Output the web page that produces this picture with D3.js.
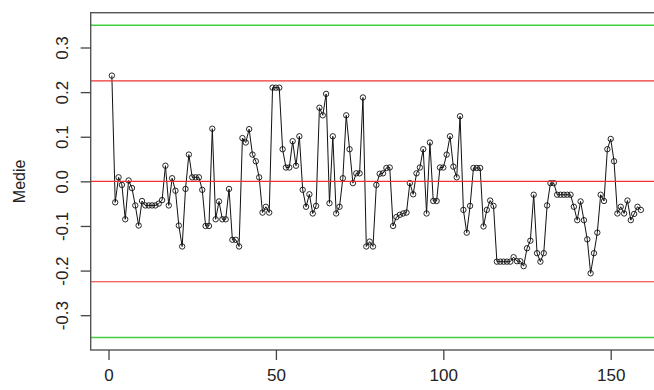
<!DOCTYPE html>
<html>
<head>
<meta charset="utf-8">
<script src="https://cdn.jsdelivr.net/npm/d3@7"></script>
<style>
  html, body { margin: 0; padding: 0; background: #fff; }
  svg { display: block; }
  text { font-family: "Liberation Sans", Arial, sans-serif; }
</style>
</head>
<body>
<svg id="chart" width="654" height="390"></svg>
<script>
// Running means, one per sample
const medie = [
  0.237, -0.047, 0.009, -0.008, -0.085, 0.002, -0.015, -0.054, -0.099, -0.044,
  -0.054, -0.054, -0.054, -0.054, -0.050, -0.042, 0.035, -0.054, 0.007, -0.021,
  -0.099, -0.146, -0.017, 0.060, 0.009, 0.009, 0.009, -0.019, -0.100, -0.100,
  0.118, -0.085, -0.045, -0.085, -0.085, -0.017, -0.131, -0.131, -0.146, 0.097,
  0.087, 0.117, 0.060, 0.045, 0.009, -0.070, -0.057, -0.070, 0.210, 0.210,
  0.210, 0.072, 0.031, 0.031, 0.090, 0.035, 0.101, -0.019, -0.057, -0.029,
  -0.072, -0.055, 0.165, 0.148, 0.196, -0.049, 0.101, -0.072, -0.057, 0.007,
  0.148, 0.072, -0.004, 0.018, 0.018, 0.188, -0.146, -0.135, -0.146, -0.008,
  0.017, 0.018, 0.030, 0.031, -0.100, -0.080, -0.075, -0.072, -0.070, -0.004,
  -0.029, 0.018, 0.031, 0.072, -0.072, 0.087, -0.044, -0.044, 0.031, 0.031,
  0.060, 0.101, 0.033, 0.009, 0.146, -0.064, -0.115, -0.055, 0.030, 0.030,
  0.030, -0.101, -0.064, -0.043, -0.055, -0.180, -0.180, -0.180, -0.180, -0.180,
  -0.170, -0.179, -0.179, -0.190, -0.150, -0.133, -0.030, -0.161, -0.180, -0.161,
  -0.054, -0.004, -0.004, -0.030, -0.030, -0.030, -0.030, -0.030, -0.057, -0.087,
  -0.045, -0.087, -0.130, -0.206, -0.161, -0.115, -0.030, -0.044, 0.072, 0.095,
  0.045, -0.072, -0.057, -0.072, -0.043, -0.087, -0.073, -0.057, -0.064
];

// Reference lines: centre, inner limits, outer limits
const centerLine = [0];
const innerLimits = [-0.225, 0.225];
const outerLimits = [-0.35, 0.35];

const xTicks = [0, 50, 100, 150];
const yTicks = [-0.3, -0.2, -0.1, 0.0, 0.1, 0.2, 0.3];
const yTickLabels = ["-0.3", "-0.2", "-0.1", "0.0", "0.1", "0.2", "0.3"];
const yLabel = "Medie";

const svg = d3.select("#chart");
const box = { left: 90.7, top: 12.7, right: 662, bottom: 350 };

// Base-graphics style 4% padding around the data range
const n = medie.length;
const padX = (n - 1) * 0.04;
const yLim = 0.35, padY = 2 * yLim * 0.04;

const x = d3.scaleLinear().domain([1 - padX, n + padX]).range([box.left, box.right]);
const y = d3.scaleLinear().domain([-yLim - padY, yLim + padY]).range([box.bottom, box.top]);

const pts = medie.map((v, i) => [i + 1, v]);

// Connecting line
svg.append("path")
  .datum(pts)
  .attr("fill", "none")
  .attr("stroke", "#111")
  .attr("stroke-width", 1)
  .attr("d", d3.line().x(d => x(d[0])).y(d => y(d[1])));

// Open circles
svg.append("g").selectAll("circle")
  .data(pts)
  .join("circle")
  .attr("cx", d => x(d[0]))
  .attr("cy", d => y(d[1]))
  .attr("r", 2.7)
  .attr("fill", "none")
  .attr("stroke", "#111")
  .attr("stroke-width", 0.9);

// Horizontal reference lines
const hline = (vals, color, w) => svg.append("g").selectAll("line")
  .data(vals).join("line")
  .attr("x1", box.left).attr("x2", box.right)
  .attr("y1", d => y(d)).attr("y2", d => y(d))
  .attr("stroke", color).attr("stroke-width", w);
hline(outerLimits, "#3fcf3f", 1.5);
hline(innerLimits, "#f03030", 1.2);
hline(centerLine, "#f03030", 1.2);

// Frame
svg.append("rect")
  .attr("x", box.left).attr("y", box.top)
  .attr("width", box.right - box.left).attr("height", box.bottom - box.top)
  .attr("fill", "none").attr("stroke", "#555").attr("stroke-width", 1.4);

// Bottom axis
const gx = svg.append("g")
  .attr("transform", `translate(0,${box.bottom})`)
  .call(d3.axisBottom(x).tickValues(xTicks).tickSize(10).tickPadding(9).tickFormat(d3.format("d")));
gx.select(".domain").remove();
gx.selectAll(".tick line").attr("stroke", "#444").attr("stroke-width", 1.3);
gx.selectAll(".tick text").attr("font-size", 17).attr("fill", "#222")
  .attr("font-family", "Liberation Sans, Arial, sans-serif");

// Left axis with rotated labels
const gy = svg.append("g")
  .attr("transform", `translate(${box.left},0)`)
  .call(d3.axisLeft(y).tickValues(yTicks).tickSize(10).tickFormat((d, i) => yTickLabels[i]));
gy.select(".domain").remove();
gy.selectAll(".tick line").attr("stroke", "#444").attr("stroke-width", 1.3);
gy.selectAll(".tick text")
  .attr("font-size", 17).attr("fill", "#222")
  .attr("font-family", "Liberation Sans, Arial, sans-serif")
  .attr("x", null).attr("dy", null)
  .attr("text-anchor", "middle")
  .attr("transform", "translate(-23,0) rotate(-90)");

// Axis title
svg.append("text")
  .attr("transform", `translate(25,${(box.top + box.bottom) / 2}) rotate(-90)`)
  .attr("text-anchor", "middle")
  .attr("font-size", 16)
  .attr("fill", "#222")
  .text(yLabel);
</script>
</body>
</html>
